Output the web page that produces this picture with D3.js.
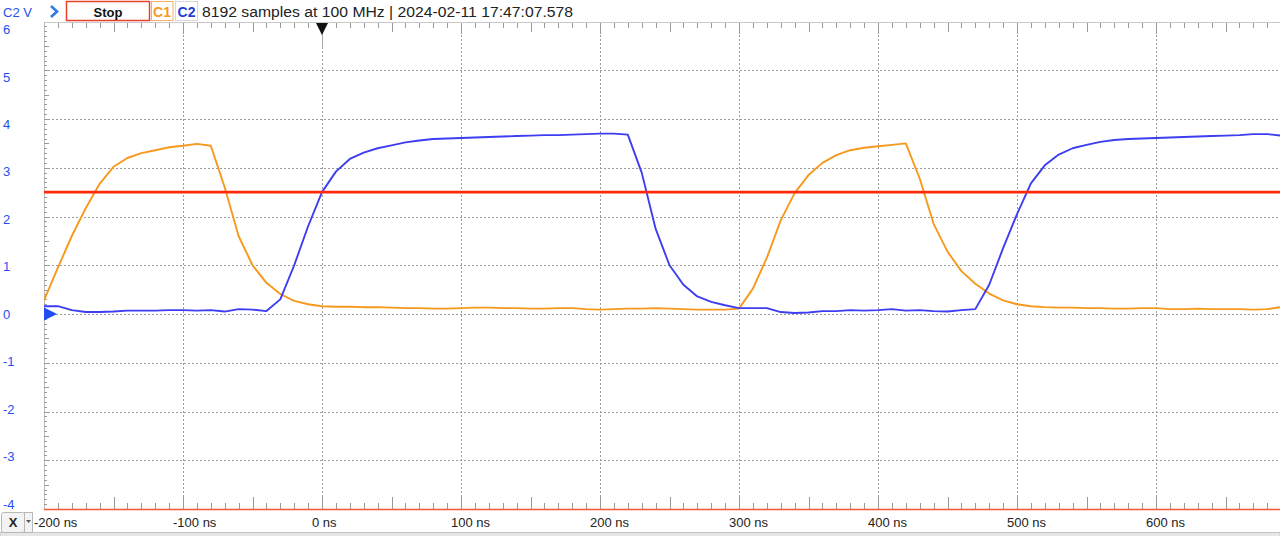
<!DOCTYPE html>
<html><head><meta charset="utf-8">
<script src="https://cdn.jsdelivr.net/npm/d3@7"></script>
<style>
html,body{margin:0;padding:0;background:#fff;overflow:hidden;}
svg{display:block;font-family:"Liberation Sans",Arial,Helvetica,sans-serif;}
</style></head><body>
<svg id="c" width="1280" height="536"></svg>
<script>
// ---- data (ns, V) ----
const times = [-200,-190,-180,-170,-160,-150,-140,-130,-120,-110,-100,-90,-80,-70,-60,-50,-40,-30,-20,-10,
  0,10,20,30,40,50,60,70,80,90,100,110,120,130,140,150,160,170,180,190,
  200,210,220,230,240,250,260,270,280,290,300,310,320,330,340,350,360,370,380,390,
  400,410,420,430,440,450,460,470,480,490,500,510,520,530,540,550,560,570,580,590,
  600,610,620,630,640,650,660,670,680,690];
const c1Values = [0.28,0.95,1.6,2.17,2.67,3.02,3.2,3.3,3.36,3.42,3.45,3.49,3.45,2.6,1.6,1.0,0.64,0.41,0.27,0.2,
  0.16,0.15,0.15,0.14,0.14,0.13,0.12,0.12,0.11,0.11,0.12,0.13,0.13,0.12,0.12,0.11,0.11,0.12,0.12,0.1,
  0.09,0.1,0.11,0.11,0.12,0.11,0.1,0.09,0.09,0.09,0.11,0.52,1.15,1.92,2.48,2.85,3.1,3.26,3.36,3.41,
  3.44,3.47,3.5,2.78,1.85,1.28,0.88,0.62,0.42,0.28,0.2,0.16,0.14,0.13,0.13,0.12,0.12,0.11,0.11,0.12,
  0.12,0.1,0.1,0.11,0.1,0.1,0.1,0.09,0.1,0.14];
const c2Values = [0.16,0.16,0.08,0.04,0.04,0.05,0.07,0.07,0.07,0.08,0.08,0.07,0.08,0.05,0.1,0.09,0.06,0.3,1.0,1.8,
  2.5,2.92,3.18,3.31,3.4,3.46,3.52,3.56,3.59,3.6,3.61,3.62,3.63,3.64,3.65,3.66,3.67,3.67,3.68,3.69,
  3.7,3.7,3.68,2.9,1.75,1.0,0.6,0.36,0.25,0.18,0.12,0.12,0.12,0.04,0.02,0.03,0.06,0.06,0.08,0.07,
  0.08,0.1,0.07,0.08,0.06,0.05,0.08,0.1,0.6,1.35,2.05,2.68,3.05,3.27,3.4,3.47,3.53,3.57,3.59,3.6,
  3.61,3.62,3.63,3.64,3.65,3.66,3.67,3.69,3.69,3.66];
const voltTicks = [-4,-3,-2,-1,0,1,2,3,4,5,6];
const timeTicks = [-200,-100,0,100,200,300,400,500,600];
const timeTickLabels = ["-200 ns","-100 ns","0 ns","100 ns","200 ns","300 ns","400 ns","500 ns","600 ns"];
const triggerLevel = 2.5;
const triggerTime = 0;
const headerText = "8192 samples at 100 MHz | 2024-02-11 17:47:07.578";

// ---- layout ----
const svg = d3.select("#c");
const L = 44, R = 1280, T = 21.5, B = 509;
const x = d3.scaleLinear().domain([-200, 689.2]).range([L, R]);
const y = d3.scaleLinear().domain([-4, 6]).range([B, T]);
const yLab = d3.scaleLinear().domain([-4, 6]).range([504, 29.5]);

const ORANGE = "#f7991c", BLUE = "#3d3df2", LABBLUE = "#2450f0";

// header
svg.append("text").attr("x", 3).attr("y", 17).attr("font-size", 13).attr("fill", LABBLUE).text("C2 V");
svg.append("path").attr("d", "M51,6 L57,11.5 L51,17").attr("fill", "none").attr("stroke", "#2e7be6").attr("stroke-width", 2.6);
svg.append("rect").attr("x", 66.5).attr("y", 1.5).attr("width", 83).attr("height", 19).attr("fill", "#fff").attr("stroke", "#e8412a").attr("stroke-width", 1.5);
svg.append("text").attr("x", 108).attr("y", 16.5).attr("text-anchor", "middle").attr("font-size", 13).attr("font-weight", "bold").attr("fill", "#111").text("Stop");
svg.append("rect").attr("x", 151.5).attr("y", 1.5).attr("width", 21.5).attr("height", 19).attr("fill", "#fff").attr("stroke", "#f6b060").attr("stroke-width", 1);
svg.append("text").attr("x", 162).attr("y", 16.5).attr("text-anchor", "middle").attr("font-size", 14).attr("font-weight", "bold").attr("fill", ORANGE).text("C1");
svg.append("rect").attr("x", 175.5).attr("y", 1.5).attr("width", 22).attr("height", 19).attr("fill", "#fff").attr("stroke", "#d6d6d6").attr("stroke-width", 1);
svg.append("text").attr("x", 186.5).attr("y", 16.5).attr("text-anchor", "middle").attr("font-size", 14).attr("font-weight", "bold").attr("fill", "#1f3fd8").text("C2");
svg.append("text").attr("x", 202).attr("y", 17).attr("font-size", 15.5).attr("fill", "#222")
  .attr("textLength", 371).attr("lengthAdjust", "spacingAndGlyphs").text(headerText);

// plot frame
const g = svg.append("g");
g.append("line").attr("x1", L).attr("x2", R).attr("y1", 22.5).attr("y2", 22.5).attr("stroke", "#c9c9c9");
g.append("line").attr("x1", L + 0.5).attr("x2", L + 0.5).attr("y1", 22).attr("y2", B).attr("stroke", "#bdbdbd");

// grid
g.selectAll("line.hg").data(voltTicks.filter(v => v > -4 && v < 6)).join("line")
  .attr("x1", L).attr("x2", R)
  .attr("y1", d => Math.round(y(d)) + 0.5).attr("y2", d => Math.round(y(d)) + 0.5)
  .attr("stroke", "#9a9a9a").attr("stroke-dasharray", "2,2").attr("shape-rendering", "crispEdges");
g.selectAll("line.vg").data(timeTicks.filter(t => t > -200)).join("line")
  .attr("x1", d => Math.round(x(d)) + 0.5).attr("x2", d => Math.round(x(d)) + 0.5)
  .attr("y1", 23).attr("y2", B)
  .attr("stroke", "#9a9a9a").attr("stroke-dasharray", "2,2").attr("shape-rendering", "crispEdges");

// minor ticks top & bottom (10 ns), left (0.1 V)
const minorT = d3.range(-190, 690, 10);
g.selectAll("line.tt").data(minorT).join("line")
  .attr("x1", d => Math.round(x(d)) + 0.5).attr("x2", d => Math.round(x(d)) + 0.5)
  .attr("y1", 23).attr("y2", d => (d % 100 === 0) ? 34 : (d % 50 === 0 ? 32 : 28))
  .attr("stroke", "#9a9a9a").attr("shape-rendering", "crispEdges");
g.selectAll("line.bt").data(minorT).join("line")
  .attr("x1", d => Math.round(x(d)) + 0.5).attr("x2", d => Math.round(x(d)) + 0.5)
  .attr("y1", d => (d % 50 === 0) ? 497 : 503).attr("y2", B)
  .attr("stroke", "#9a9a9a").attr("shape-rendering", "crispEdges");
const minorV = d3.range(-39, 60, 1).map(v => v / 10);
g.selectAll("line.lt").data(minorV).join("line")
  .attr("x1", L).attr("x2", d => (Math.abs(Math.round(d * 10)) % 5 === 0) ? L + 5 : L + 3)
  .attr("y1", d => Math.round(y(d)) + 0.5).attr("y2", d => Math.round(y(d)) + 0.5)
  .attr("stroke", "#9a9a9a").attr("shape-rendering", "crispEdges");

// bottom line
g.append("line").attr("x1", L).attr("x2", R).attr("y1", B + 0.5).attr("y2", B + 0.5).attr("stroke", "#f05a36").attr("stroke-width", 1.5);

// trigger time marker line (solid under triangle)
g.append("line").attr("x1", Math.round(x(triggerTime)) + 0.5).attr("x2", Math.round(x(triggerTime)) + 0.5)
  .attr("y1", 30).attr("y2", 48).attr("stroke", "#a8a8a8");

// traces
const clip = svg.append("clipPath").attr("id", "pc").append("rect").attr("x", L).attr("y", T).attr("width", R - L).attr("height", B - T);
const line = d3.line().x((d, i) => x(times[i])).y(d => y(d));
const tg = svg.append("g").attr("clip-path", "url(#pc)");
tg.append("path").datum(c1Values).attr("d", line).attr("fill", "none").attr("stroke", ORANGE).attr("stroke-width", 1.9).attr("stroke-linejoin", "round");
tg.append("path").datum(c2Values).attr("d", line).attr("fill", "none").attr("stroke", BLUE).attr("stroke-width", 1.9).attr("stroke-linejoin", "round");

// trigger level
svg.append("line").attr("x1", L).attr("x2", R).attr("y1", y(triggerLevel)).attr("y2", y(triggerLevel))
  .attr("stroke", "#ff2a0a").attr("stroke-width", 2.6);

// markers
const tx = x(triggerTime);
svg.append("path").attr("d", `M${tx - 6},23 L${tx + 6},23 L${tx},35 Z`).attr("fill", "#111");
const y0 = y(0);
svg.append("path").attr("d", `M${L},${y0 - 6.5} L${L + 13},${y0} L${L},${y0 + 6.5} Z`).attr("fill", "#1f4ef5");

// y labels
svg.append("g").selectAll("text").data(voltTicks).join("text")
  .attr("x", 3).attr("y", d => yLab(d)).attr("dy", "0.35em")
  .attr("font-size", 13).attr("fill", LABBLUE).text(d => d);

// x labels
svg.append("g").selectAll("text").data(timeTicks).join("text")
  .attr("x", d => x(d) - 10).attr("y", 527)
  .attr("font-size", 13).attr("fill", "#222").text((d, i) => timeTickLabels[i]);

// bottom controls
svg.append("rect").attr("x", 0).attr("y", 532.5).attr("width", 1280).attr("height", 4).attr("fill", "#e6e6e6").attr("stroke", "#c4c4c4");
svg.append("rect").attr("x", 1.5).attr("y", 512.5).attr("width", 23).attr("height", 20).attr("rx", 2).attr("fill", "#f3f3f3").attr("stroke", "#b8b8b8");
svg.append("text").attr("x", 13).attr("y", 527).attr("text-anchor", "middle").attr("font-size", 13).attr("font-weight", "bold").attr("fill", "#222").text("X");
svg.append("rect").attr("x", 24.5).attr("y", 512.5).attr("width", 8).attr("height", 20).attr("fill", "#f3f3f3").attr("stroke", "#b8b8b8");
svg.append("path").attr("d", "M26,520 L31,520 L28.5,523 Z").attr("fill", "#555");
</script>
</body></html>
